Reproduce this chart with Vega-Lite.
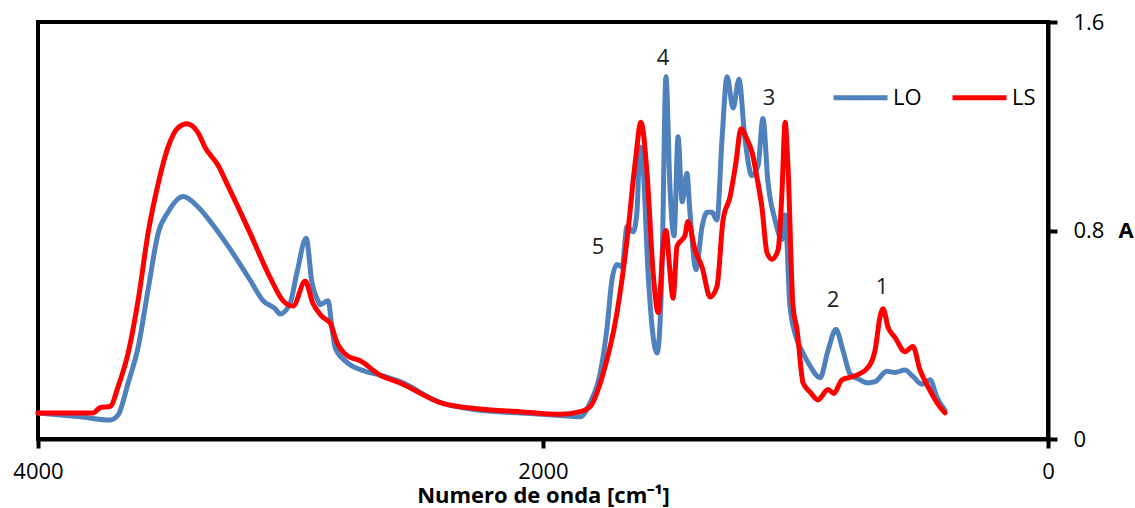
{
  "$schema": "https://vega.github.io/schema/vega-lite/v6.json",
  "width": 1010,
  "height": 417,
  "autosize": {"type": "none"},
  "padding": {"left": 38, "top": 22, "right": 87, "bottom": 69},
  "background": "white",
  "config": {
    "view": {"stroke": "black", "strokeWidth": 4},
    "font": "Open Sans",
    "axis": {"grid": false, "domainColor": "black", "domainWidth": 4, "tickColor": "black", "tickWidth": 4, "tickSize": 9, "labelColor": "black", "labelFontSize": 22, "labelFont": "Open Sans", "titleColor": "black", "titleFont": "Open Sans"}
  },
  "datasets": {
    "spec": [
      {"wn": 4000, "A": 0.10, "s": "LO"}, {"wn": 3833, "A": 0.085, "s": "LO"}, {"wn": 3714, "A": 0.073, "s": "LO"}, {"wn": 3683, "A": 0.092, "s": "LO"}, {"wn": 3643, "A": 0.215, "s": "LO"}, {"wn": 3603, "A": 0.354, "s": "LO"}, {"wn": 3564, "A": 0.573, "s": "LO"}, {"wn": 3524, "A": 0.79, "s": "LO"}, {"wn": 3485, "A": 0.87, "s": "LO"}, {"wn": 3425, "A": 0.93, "s": "LO"}, {"wn": 3366, "A": 0.89, "s": "LO"}, {"wn": 3314, "A": 0.83, "s": "LO"}, {"wn": 3247, "A": 0.74, "s": "LO"}, {"wn": 3160, "A": 0.61, "s": "LO"}, {"wn": 3108, "A": 0.53, "s": "LO"}, {"wn": 3061, "A": 0.50, "s": "LO"}, {"wn": 3041, "A": 0.48, "s": "LO"}, {"wn": 3002, "A": 0.52, "s": "LO"}, {"wn": 2974, "A": 0.64, "s": "LO"}, {"wn": 2938, "A": 0.77, "s": "LO"}, {"wn": 2915, "A": 0.60, "s": "LO"}, {"wn": 2891, "A": 0.53, "s": "LO"}, {"wn": 2883, "A": 0.515, "s": "LO"}, {"wn": 2851, "A": 0.53, "s": "LO"}, {"wn": 2835, "A": 0.42, "s": "LO"}, {"wn": 2823, "A": 0.35, "s": "LO"}, {"wn": 2784, "A": 0.30, "s": "LO"}, {"wn": 2705, "A": 0.26, "s": "LO"}, {"wn": 2645, "A": 0.245, "s": "LO"}, {"wn": 2566, "A": 0.22, "s": "LO"}, {"wn": 2407, "A": 0.14, "s": "LO"}, {"wn": 2249, "A": 0.11, "s": "LO"}, {"wn": 2091, "A": 0.10, "s": "LO"}, {"wn": 1932, "A": 0.09, "s": "LO"}, {"wn": 1853, "A": 0.085, "s": "LO"}, {"wn": 1813, "A": 0.14, "s": "LO"}, {"wn": 1774, "A": 0.25, "s": "LO"}, {"wn": 1746, "A": 0.43, "s": "LO"}, {"wn": 1727, "A": 0.61, "s": "LO"}, {"wn": 1707, "A": 0.67, "s": "LO"}, {"wn": 1687, "A": 0.66, "s": "LO"}, {"wn": 1667, "A": 0.815, "s": "LO"}, {"wn": 1643, "A": 0.795, "s": "LO"}, {"wn": 1628, "A": 0.87, "s": "LO"}, {"wn": 1616, "A": 1.12, "s": "LO"}, {"wn": 1604, "A": 1.05, "s": "LO"}, {"wn": 1584, "A": 0.64, "s": "LO"}, {"wn": 1548, "A": 0.33, "s": "LO"}, {"wn": 1529, "A": 0.64, "s": "LO"}, {"wn": 1513, "A": 1.39, "s": "LO"}, {"wn": 1497, "A": 0.96, "s": "LO"}, {"wn": 1481, "A": 0.78, "s": "LO"}, {"wn": 1465, "A": 1.16, "s": "LO"}, {"wn": 1449, "A": 0.91, "s": "LO"}, {"wn": 1430, "A": 1.02, "s": "LO"}, {"wn": 1418, "A": 0.87, "s": "LO"}, {"wn": 1394, "A": 0.65, "s": "LO"}, {"wn": 1370, "A": 0.815, "s": "LO"}, {"wn": 1350, "A": 0.87, "s": "LO"}, {"wn": 1331, "A": 0.87, "s": "LO"}, {"wn": 1311, "A": 0.84, "s": "LO"}, {"wn": 1291, "A": 1.15, "s": "LO"}, {"wn": 1271, "A": 1.39, "s": "LO"}, {"wn": 1247, "A": 1.27, "s": "LO"}, {"wn": 1224, "A": 1.38, "s": "LO"}, {"wn": 1200, "A": 1.15, "s": "LO"}, {"wn": 1172, "A": 1.01, "s": "LO"}, {"wn": 1148, "A": 1.05, "s": "LO"}, {"wn": 1129, "A": 1.23, "s": "LO"}, {"wn": 1109, "A": 0.985, "s": "LO"}, {"wn": 1081, "A": 0.84, "s": "LO"}, {"wn": 1053, "A": 0.765, "s": "LO"}, {"wn": 1041, "A": 0.86, "s": "LO"}, {"wn": 1022, "A": 0.51, "s": "LO"}, {"wn": 994, "A": 0.38, "s": "LO"}, {"wn": 970, "A": 0.33, "s": "LO"}, {"wn": 942, "A": 0.28, "s": "LO"}, {"wn": 903, "A": 0.235, "s": "LO"}, {"wn": 871, "A": 0.34, "s": "LO"}, {"wn": 840, "A": 0.42, "s": "LO"}, {"wn": 812, "A": 0.34, "s": "LO"}, {"wn": 784, "A": 0.25, "s": "LO"}, {"wn": 745, "A": 0.227, "s": "LO"}, {"wn": 713, "A": 0.215, "s": "LO"}, {"wn": 685, "A": 0.22, "s": "LO"}, {"wn": 638, "A": 0.26, "s": "LO"}, {"wn": 606, "A": 0.255, "s": "LO"}, {"wn": 566, "A": 0.265, "s": "LO"}, {"wn": 535, "A": 0.24, "s": "LO"}, {"wn": 499, "A": 0.21, "s": "LO"}, {"wn": 467, "A": 0.227, "s": "LO"}, {"wn": 440, "A": 0.16, "s": "LO"}, {"wn": 408, "A": 0.11, "s": "LO"},
      {"wn": 4000, "A": 0.10, "s": "LS"}, {"wn": 3782, "A": 0.10, "s": "LS"}, {"wn": 3754, "A": 0.12, "s": "LS"}, {"wn": 3714, "A": 0.125, "s": "LS"}, {"wn": 3683, "A": 0.20, "s": "LS"}, {"wn": 3643, "A": 0.33, "s": "LS"}, {"wn": 3603, "A": 0.535, "s": "LS"}, {"wn": 3564, "A": 0.79, "s": "LS"}, {"wn": 3524, "A": 0.98, "s": "LS"}, {"wn": 3485, "A": 1.12, "s": "LS"}, {"wn": 3445, "A": 1.195, "s": "LS"}, {"wn": 3410, "A": 1.21, "s": "LS"}, {"wn": 3366, "A": 1.175, "s": "LS"}, {"wn": 3339, "A": 1.12, "s": "LS"}, {"wn": 3287, "A": 1.05, "s": "LS"}, {"wn": 3247, "A": 0.97, "s": "LS"}, {"wn": 3160, "A": 0.79, "s": "LS"}, {"wn": 3081, "A": 0.62, "s": "LS"}, {"wn": 3029, "A": 0.53, "s": "LS"}, {"wn": 2990, "A": 0.51, "s": "LS"}, {"wn": 2942, "A": 0.605, "s": "LS"}, {"wn": 2911, "A": 0.52, "s": "LS"}, {"wn": 2875, "A": 0.47, "s": "LS"}, {"wn": 2843, "A": 0.445, "s": "LS"}, {"wn": 2816, "A": 0.37, "s": "LS"}, {"wn": 2776, "A": 0.32, "s": "LS"}, {"wn": 2724, "A": 0.30, "s": "LS"}, {"wn": 2645, "A": 0.245, "s": "LS"}, {"wn": 2566, "A": 0.215, "s": "LS"}, {"wn": 2407, "A": 0.14, "s": "LS"}, {"wn": 2249, "A": 0.115, "s": "LS"}, {"wn": 2091, "A": 0.105, "s": "LS"}, {"wn": 1932, "A": 0.095, "s": "LS"}, {"wn": 1853, "A": 0.105, "s": "LS"}, {"wn": 1813, "A": 0.125, "s": "LS"}, {"wn": 1762, "A": 0.25, "s": "LS"}, {"wn": 1707, "A": 0.485, "s": "LS"}, {"wn": 1667, "A": 0.765, "s": "LS"}, {"wn": 1635, "A": 1.06, "s": "LS"}, {"wn": 1612, "A": 1.215, "s": "LS"}, {"wn": 1588, "A": 1.02, "s": "LS"}, {"wn": 1564, "A": 0.64, "s": "LS"}, {"wn": 1544, "A": 0.485, "s": "LS"}, {"wn": 1524, "A": 0.74, "s": "LS"}, {"wn": 1513, "A": 0.80, "s": "LS"}, {"wn": 1497, "A": 0.64, "s": "LS"}, {"wn": 1485, "A": 0.54, "s": "LS"}, {"wn": 1469, "A": 0.74, "s": "LS"}, {"wn": 1449, "A": 0.765, "s": "LS"}, {"wn": 1438, "A": 0.78, "s": "LS"}, {"wn": 1426, "A": 0.835, "s": "LS"}, {"wn": 1398, "A": 0.725, "s": "LS"}, {"wn": 1370, "A": 0.66, "s": "LS"}, {"wn": 1338, "A": 0.545, "s": "LS"}, {"wn": 1311, "A": 0.585, "s": "LS"}, {"wn": 1287, "A": 0.84, "s": "LS"}, {"wn": 1259, "A": 0.93, "s": "LS"}, {"wn": 1236, "A": 1.06, "s": "LS"}, {"wn": 1216, "A": 1.19, "s": "LS"}, {"wn": 1192, "A": 1.15, "s": "LS"}, {"wn": 1172, "A": 1.10, "s": "LS"}, {"wn": 1152, "A": 1.0, "s": "LS"}, {"wn": 1133, "A": 0.89, "s": "LS"}, {"wn": 1113, "A": 0.715, "s": "LS"}, {"wn": 1093, "A": 0.69, "s": "LS"}, {"wn": 1069, "A": 0.725, "s": "LS"}, {"wn": 1053, "A": 0.96, "s": "LS"}, {"wn": 1041, "A": 1.215, "s": "LS"}, {"wn": 1030, "A": 1.05, "s": "LS"}, {"wn": 1010, "A": 0.51, "s": "LS"}, {"wn": 994, "A": 0.42, "s": "LS"}, {"wn": 970, "A": 0.215, "s": "LS"}, {"wn": 942, "A": 0.18, "s": "LS"}, {"wn": 911, "A": 0.15, "s": "LS"}, {"wn": 871, "A": 0.19, "s": "LS"}, {"wn": 848, "A": 0.175, "s": "LS"}, {"wn": 816, "A": 0.227, "s": "LS"}, {"wn": 772, "A": 0.24, "s": "LS"}, {"wn": 717, "A": 0.27, "s": "LS"}, {"wn": 685, "A": 0.34, "s": "LS"}, {"wn": 665, "A": 0.47, "s": "LS"}, {"wn": 653, "A": 0.50, "s": "LS"}, {"wn": 634, "A": 0.43, "s": "LS"}, {"wn": 606, "A": 0.39, "s": "LS"}, {"wn": 566, "A": 0.335, "s": "LS"}, {"wn": 535, "A": 0.355, "s": "LS"}, {"wn": 507, "A": 0.265, "s": "LS"}, {"wn": 475, "A": 0.20, "s": "LS"}, {"wn": 440, "A": 0.14, "s": "LS"}, {"wn": 408, "A": 0.10, "s": "LS"}
    ],
    "peaks": [
      {"wn": 1782, "A": 0.738, "label": "5"},
      {"wn": 1525, "A": 1.46, "label": "4"},
      {"wn": 1105, "A": 1.31, "label": "3"},
      {"wn": 851, "A": 0.535, "label": "2"},
      {"wn": 657, "A": 0.585, "label": "1"}
    ]
  },
  "layer": [
    {
      "data": {"name": "spec"},
      "mark": {"type": "line", "strokeWidth": 5, "interpolate": "monotone", "strokeCap": "round", "strokeJoin": "round"},
      "encoding": {
        "x": {"field": "wn", "type": "quantitative", "scale": {"domain": [4000, 0], "nice": false, "zero": false},
          "axis": {"orient": "bottom", "values": [4000, 2000, 0], "format": "d", "labelFlush": false, "labelPadding": 13, "title": "Numero de onda [cm⁻¹]", "titleFontSize": 22, "titleFontWeight": "bold", "titlePadding": 3}},
        "y": {"field": "A", "type": "quantitative", "scale": {"domain": [0, 1.6], "nice": false},
          "axis": {"orient": "right", "values": [0, 0.8, 1.6], "format": "~g", "labelPadding": 16, "title": "A", "titleAngle": 0, "titleAlign": "left", "titleBaseline": "middle", "titleFontSize": 22, "titleFontWeight": "bold", "titlePadding": 14}},
        "color": {"field": "s", "type": "nominal", "scale": {"domain": ["LO", "LS"], "range": ["#4F81BD", "#FF0000"]},
          "legend": {"orient": "none", "legendX": 793, "legendY": 46, "direction": "horizontal", "title": null, "symbolType": "stroke", "symbolSize": 2916, "symbolStrokeWidth": 5, "labelFontSize": 22, "labelFont": "Open Sans", "labelColor": "black", "labelOffset": 3, "columnPadding": 20}}
      }
    },
    {
      "data": {"name": "peaks"},
      "mark": {"type": "text", "fontSize": 22, "font": "Open Sans", "color": "#222222", "align": "center", "baseline": "middle"},
      "encoding": {
        "x": {"field": "wn", "type": "quantitative"},
        "y": {"field": "A", "type": "quantitative"},
        "text": {"field": "label"}
      }
    }
  ]
}
